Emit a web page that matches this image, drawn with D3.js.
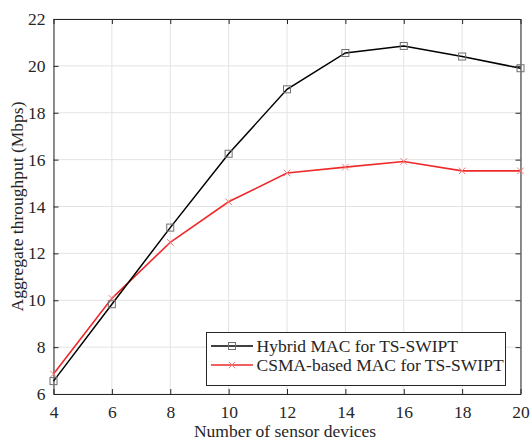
<!DOCTYPE html>
<html>
<head>
<meta charset="utf-8">
<script src="https://cdn.jsdelivr.net/npm/d3@7"></script>
<style>
  html, body { margin: 0; padding: 0; background: #fff; }
  svg { display: block; }
</style>
</head>
<body>
<svg id="chart" width="530" height="440"></svg>
<script>
// Number of sensor devices (x) and aggregate throughput in Mbps for each MAC scheme
const devices = [4, 6, 8, 10, 12, 14, 16, 18, 20];
const hybridMAC = [6.55, 9.83, 13.1, 16.25, 19.0, 20.55, 20.85, 20.4, 19.9];
const csmaMAC = [6.85, 10.08, 12.47, 14.2, 15.43, 15.68, 15.92, 15.52, 15.52];
const seriesNames = ["Hybrid MAC for TS-SWIPT", "CSMA-based MAC for TS-SWIPT"];
const xTicks = [4, 6, 8, 10, 12, 14, 16, 18, 20];
const yTicks = [6, 8, 10, 12, 14, 16, 18, 20, 22];

const margin = { left: 53.5, top: 19, right: 520.5, bottom: 394 };
const svg = d3.select("#chart");

const x = d3.scaleLinear().domain([4, 20]).range([margin.left, margin.right]);
const y = d3.scaleLinear().domain([6, 22]).range([margin.bottom, margin.top]);

// grid
const grid = svg.append("g");
grid.selectAll("line.vx").data(xTicks).join("line")
  .attr("x1", d => x(d)).attr("x2", d => x(d))
  .attr("y1", margin.top).attr("y2", margin.bottom)
  .attr("stroke", "#e3e3e3").attr("stroke-width", 1);
grid.selectAll("line.hy").data(yTicks).join("line")
  .attr("y1", d => y(d)).attr("y2", d => y(d))
  .attr("x1", margin.left).attr("x2", margin.right)
  .attr("stroke", "#e3e3e3").attr("stroke-width", 1);

// axes (box with inward ticks on all sides)
const tickLen = 5;
const axisColor = "#262626";
const fontSize = 17.5;
const serif = "Liberation Serif";

const xAxisB = d3.axisBottom(x).tickValues(xTicks).tickSizeInner(-tickLen).tickSizeOuter(0).tickPadding(12);
const xAxisT = d3.axisTop(x).tickValues(xTicks).tickSizeInner(-tickLen).tickSizeOuter(0).tickFormat("");
const yAxisL = d3.axisLeft(y).tickValues(yTicks).tickSizeInner(-tickLen).tickSizeOuter(0).tickPadding(8);
const yAxisR = d3.axisRight(y).tickValues(yTicks).tickSizeInner(-tickLen).tickSizeOuter(0).tickFormat("");

function styleAxis(g) {
  g.attr("font-family", serif).attr("font-size", fontSize);
  g.selectAll("path.domain").attr("stroke", axisColor).attr("stroke-width", 1);
  g.selectAll(".tick line").attr("stroke", axisColor).attr("stroke-width", 1);
  g.selectAll(".tick text").attr("fill", axisColor);
}

svg.append("g").attr("transform", `translate(0,${margin.bottom})`).call(xAxisB).call(styleAxis);
svg.append("g").attr("transform", `translate(0,${margin.top})`).call(xAxisT).call(styleAxis);
svg.append("g").attr("transform", `translate(${margin.left},0)`).call(yAxisL).call(styleAxis);
svg.append("g").attr("transform", `translate(${margin.right},0)`).call(yAxisR).call(styleAxis);

// axis titles
svg.append("text")
  .attr("x", (margin.left + margin.right) / 2 - 2).attr("y", 437)
  .attr("text-anchor", "middle").attr("font-family", serif).attr("font-size", fontSize)
  .attr("fill", axisColor)
  .text("Number of sensor devices");
svg.append("text")
  .attr("transform", `translate(23,${(margin.top + margin.bottom) / 2}) rotate(-90)`)
  .attr("text-anchor", "middle").attr("font-family", serif).attr("font-size", fontSize)
  .attr("fill", axisColor)
  .text("Aggregate throughput (Mbps)");

// series
const line = d3.line().x(d => x(d[0])).y(d => y(d[1]));
const hybridPts = devices.map((d, i) => [d, hybridMAC[i]]);
const csmaPts = devices.map((d, i) => [d, csmaMAC[i]]);

const hybridColor = "#000000", hybridMarker = "#707070";
const csmaColor = "#ee2a2a", csmaMarker = "#f27a7a";

svg.append("path").datum(csmaPts).attr("d", line)
  .attr("fill", "none").attr("stroke", csmaColor).attr("stroke-width", 1.6);
svg.append("path").datum(hybridPts).attr("d", line)
  .attr("fill", "none").attr("stroke", hybridColor).attr("stroke-width", 1.5);

const sq = 7, xs = 3.3;
function drawSquare(g, cx, cy) {
  g.append("rect").attr("x", cx - sq / 2).attr("y", cy - sq / 2)
    .attr("width", sq).attr("height", sq)
    .attr("fill", "none").attr("stroke", hybridMarker).attr("stroke-width", 1);
}
function drawCross(g, cx, cy) {
  g.append("path")
    .attr("d", `M${cx - xs},${cy - xs}L${cx + xs},${cy + xs}M${cx - xs},${cy + xs}L${cx + xs},${cy - xs}`)
    .attr("stroke", csmaMarker).attr("stroke-width", 1).attr("fill", "none");
}
const markers = svg.append("g");
csmaPts.forEach(p => drawCross(markers, x(p[0]), y(p[1])));
hybridPts.forEach(p => drawSquare(markers, x(p[0]), y(p[1])));

// legend
const lg = svg.append("g");
lg.append("rect").attr("x", 206.5).attr("y", 332.5).attr("width", 299).attr("height", 53)
  .attr("fill", "#fff").attr("stroke", axisColor).attr("stroke-width", 1);
const rows = [
  { name: seriesNames[0], color: hybridColor, cy: 346, mark: drawSquare },
  { name: seriesNames[1], color: csmaColor, cy: 365, mark: drawCross }
];
rows.forEach(r => {
  lg.append("line").attr("x1", 211).attr("x2", 253).attr("y1", r.cy).attr("y2", r.cy)
    .attr("stroke", r.color).attr("stroke-width", r.color === csmaColor ? 1.6 : 1.5);
  r.mark(lg, 232, r.cy);
  lg.append("text").attr("x", 256.5).attr("y", r.cy + 6)
    .attr("font-family", serif).attr("font-size", fontSize).attr("fill", axisColor)
    .text(r.name);
});
</script>
</body>
</html>
